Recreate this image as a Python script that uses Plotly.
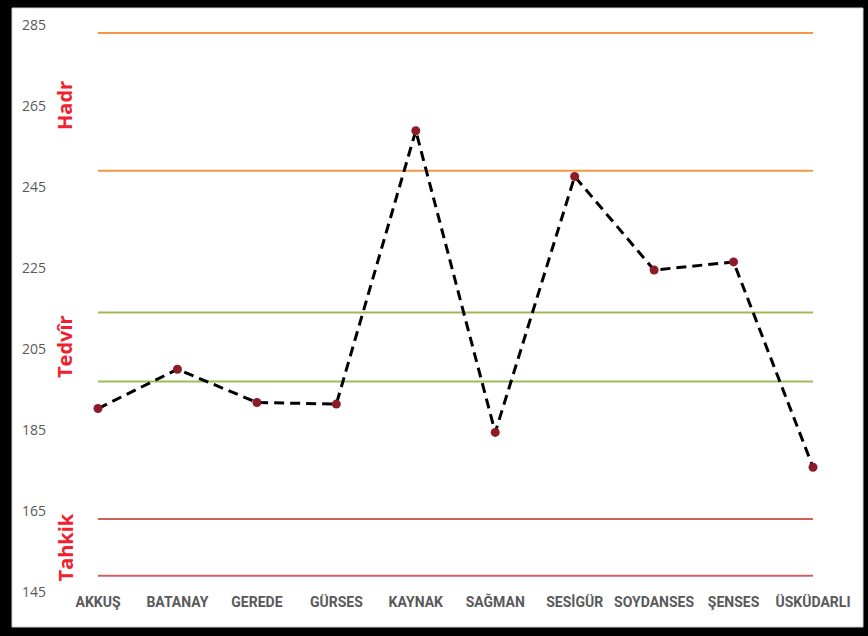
import plotly.graph_objects as go

# Districts and their scores
districts = ["AKKUŞ", "BATANAY", "GEREDE", "GÜRSES", "KAYNAK",
             "SAĞMAN", "SESİGÜR", "SOYDANSES", "ŞENSES", "ÜSKÜDARLI"]
scores = [190.3, 200.0, 191.8, 191.4, 258.9, 184.4, 247.6, 224.5, 226.5, 175.8]

# Band boundaries (upper, lower) for each zone
hadr_band = [283, 249]
tedvir_band = [214, 197]
tahkik_band = [163, 149]

zone_names = ["Hadr", "Tedvîr", "Tahkik"]
zone_bands = [hadr_band, tedvir_band, tahkik_band]
zone_colors = ["#F79646", "#9BBB59", "#D0605E"]

y_ticks = [145, 165, 185, 205, 225, 245, 265, 285]

W, H = 868, 636
ML, MR, MT, MB = 47, 15, 25, 44
PW, PH = W - ML - MR, H - MT - MB


def px_x(p):
    return (p - ML) / PW


def px_y(p):
    return (H - MB - p) / PH


fig = go.Figure()

for band, color in zip(zone_bands, zone_colors):
    for level in band:
        fig.add_trace(go.Scatter(
            x=districts, y=[level] * len(districts), mode="lines",
            line=dict(color=color, width=2), hoverinfo="skip", showlegend=False))

fig.add_trace(go.Scatter(
    x=districts, y=scores, mode="lines+markers",
    line=dict(color="black", width=3, dash="10px,6px"),
    marker=dict(color="#8E1B2A", size=9),
    showlegend=False))

# zone names, written vertically beside each band
for name, band in zip(zone_names, zone_bands):
    fig.add_annotation(
        x=px_x(65), xref="paper", y=sum(band) / 2, yref="y",
        xanchor="center", yanchor="middle",
        yshift=-4 if name == "Hadr" else 0,
        text=f"<b>{name}</b>", textangle=-90, showarrow=False,
        font=dict(family="Open Sans", size=20, color="#F0202E"))

# white card with thin grey edge inside the black frame
fig.add_shape(type="rect", xref="paper", yref="paper", layer="below",
              x0=px_x(12), x1=px_x(863), y0=px_y(627), y1=px_y(8),
              fillcolor="white", line=dict(color="#D0D0D0", width=1))

n = len(districts)
step = (813 - 98) / (n - 1)
fig.update_xaxes(
    type="category", automargin=False, tickangle=0,
    range=[-(98 - ML) / step, (n - 1) + (W - MR - 813) / step],
    showgrid=False, showline=False, zeroline=False, ticks="",
    tickfont=dict(family="Roboto", size=14, color="#595959", weight="bold"))
fig.update_yaxes(
    range=[145, 285], tickvals=y_ticks, showgrid=False, showline=False,
    zeroline=False, ticks="", automargin=False,
    tickfont=dict(family="Open Sans", size=14, color="#595959"))

fig.update_layout(
    width=W, height=H, margin=dict(l=ML, r=MR, t=MT, b=MB),
    paper_bgcolor="black", plot_bgcolor="white")

fig.write_html("out.html")
